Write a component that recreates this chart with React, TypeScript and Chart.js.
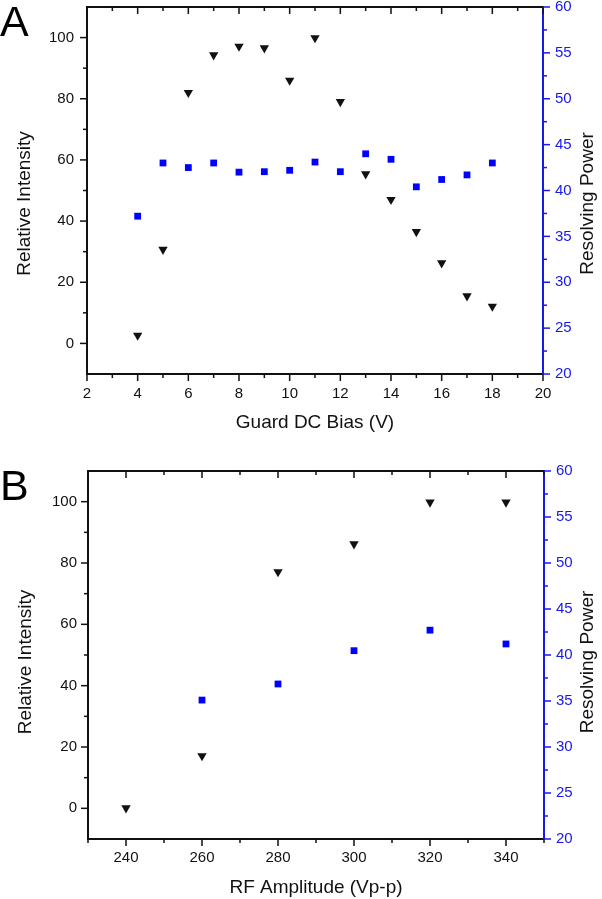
import React, { useEffect, useRef } from 'react';
import { Chart, registerables } from 'chart.js';

Chart.register(...registerables);
Chart.defaults.font.family = '"Liberation Sans", Arial, Helvetica, sans-serif';

// ---------- Data ----------
// Panel A: Guard DC bias sweep
const biasVolts = [4, 5, 6, 7, 8, 9, 10, 11, 12, 13, 14, 15, 16, 17, 18];
const biasIntensity = [2.6, 30.7, 82, 94.3, 97.1, 96.6, 86, 99.9, 79, 55.4, 47, 36.5, 26.3, 15.5, 12.1];
const biasResolving = [37.2, 43.0, 42.5, 43.0, 42.0, 42.05, 42.2, 43.1, 42.05, 44.0, 43.4, 40.4, 41.2, 41.7, 43.0];

// Panel B: RF amplitude sweep
const rfAmplitude = [240, 260, 280, 300, 320, 340];
const rfIntensity = [0.1, 17.1, 77.1, 86.2, 99.8, 99.8];
const rfResolving: (number | null)[] = [null, 35.1, 36.85, 40.47, 42.7, 41.2];

// Tick labels
const intensityTicks = [0, 20, 40, 60, 80, 100];
const resolvingTicks = [20, 25, 30, 35, 40, 45, 50, 55, 60];
const biasTicks = [2, 4, 6, 8, 10, 12, 14, 16, 18, 20];
const rfTicks = [240, 260, 280, 300, 320, 340];

const BLACK = '#111111';
const BLUE_AXIS = 'rgb(24,24,235)';
const BLUE_MARK = '#0000ff';
const W = 602;

type Layout = {
  canvasTop: number;
  height: number;
  left: number;
  right: number;
  top: number;
  bottom: number;
  xLabelPad: number;
  yLabelPad: number;
  titlePadBottom: number;
  leftTitle: { x: number; y: number };
  rightTitle: { x: number; y: number };
};

type PanelProps = {
  xs: number[];
  intensity: number[];
  resolving: (number | null)[];
  xMin: number;
  xMax: number;
  xTicks: number[];
  xMinor: number;
  xMajor: number;
  xTitle: string;
  layout: Layout;
};

const eachStep = (min: number, max: number, step: number, fn: (v: number, i: number) => void) => {
  const n = Math.round((max - min) / step);
  for (let i = 0; i <= n; i++) fn(min + i * step, i);
};
const isMajor = (v: number, major: number) => Math.abs(v / major - Math.round(v / major)) < 1e-6;

const frameTicks = {
  id: 'frameTicks',
  afterDraw(chart: any, _args: any, opts: any) {
    const { ctx, chartArea } = chart;
    const { left, right, top, bottom } = chartArea;
    const sx = chart.scales.x;
    const sy = chart.scales.y;
    const sr = chart.scales.y2;
    const MAJ = 7;
    const MIN = 4;
    ctx.save();
    // top frame line
    ctx.strokeStyle = BLACK;
    ctx.lineWidth = 2;
    ctx.beginPath();
    ctx.moveTo(left - 1, top);
    ctx.lineTo(right, top);
    ctx.stroke();

    ctx.lineWidth = 1.5;
    // bottom (outward) and top (inward) ticks
    eachStep(sx.min, sx.max, opts.xMinor, (v) => {
      const p = sx.getPixelForValue(v);
      const len = isMajor(v, opts.xMajor) ? MAJ : MIN;
      ctx.beginPath();
      ctx.moveTo(p, bottom);
      ctx.lineTo(p, bottom + len);
      ctx.moveTo(p, top);
      ctx.lineTo(p, top + len);
      ctx.stroke();
    });
    // left ticks (outward)
    eachStep(sy.min, sy.max, 10, (v) => {
      if (v <= sy.min || v >= sy.max) return;
      const p = sy.getPixelForValue(v);
      const len = isMajor(v, 20) ? MAJ : MIN;
      ctx.beginPath();
      ctx.moveTo(left - len, p);
      ctx.lineTo(left, p);
      ctx.stroke();
    });
    // right ticks (outward, blue)
    ctx.strokeStyle = BLUE_AXIS;
    eachStep(sr.min, sr.max, 2.5, (v) => {
      const p = sr.getPixelForValue(v);
      const len = isMajor(v, 5) ? MAJ : MIN;
      ctx.beginPath();
      ctx.moveTo(right, p);
      ctx.lineTo(right + len, p);
      ctx.stroke();
    });

    // vertical axis titles (both read bottom-to-top)
    ctx.fillStyle = BLACK;
    ctx.font = '19px "Liberation Sans", Arial, sans-serif';
    ctx.textAlign = 'center';
    ctx.textBaseline = 'alphabetic';
    const drawV = (text: string, x: number, y: number) => {
      ctx.save();
      ctx.translate(x, y);
      ctx.rotate(-Math.PI / 2);
      ctx.fillText(text, 0, 0);
      ctx.restore();
    };
    drawV('Relative Intensity', opts.leftTitle.x, opts.leftTitle.y);
    drawV('Resolving Power', opts.rightTitle.x, opts.rightTitle.y);
    ctx.restore();
  },
};

function Panel(props: PanelProps) {
  const ref = useRef<HTMLCanvasElement | null>(null);
  const { layout: L } = props;
  useEffect(() => {
    if (!ref.current) return;
    const triData = props.xs.map((x, i) => ({ x, y: props.intensity[i] }));
    const sqData = props.xs
      .map((x, i) => ({ x, y: props.resolving[i] }))
      .filter((d) => d.y !== null) as { x: number; y: number }[];
    const chart = new Chart(ref.current, {
      type: 'scatter',
      data: {
        datasets: [
          {
            label: 'Relative Intensity',
            data: triData,
            yAxisID: 'y',
            pointStyle: 'triangle',
            pointRotation: 180,
            pointRadius: 5.4,
            pointBackgroundColor: BLACK,
            backgroundColor: BLACK,
            pointBorderWidth: 0,
            borderWidth: 0,
          } as any,
          {
            label: 'Resolving Power',
            data: sqData,
            yAxisID: 'y2',
            pointStyle: 'rect',
            pointRadius: 4.8,
            pointBackgroundColor: BLUE_MARK,
            backgroundColor: BLUE_MARK,
            pointBorderWidth: 0,
            borderWidth: 0,
          } as any,
        ],
      },
      options: {
        responsive: false,
        animation: false,
        layout: { padding: { top: L.top, left: 0, right: 0, bottom: 0 } },
        plugins: {
          legend: { display: false },
          tooltip: { enabled: false },
          frameTicks: {
            xMinor: props.xMinor,
            xMajor: props.xMajor,
            leftTitle: L.leftTitle,
            rightTitle: L.rightTitle,
          },
        } as any,
        scales: {
          x: {
            type: 'linear',
            position: 'bottom',
            min: props.xMin,
            max: props.xMax,
            afterBuildTicks: (s: any) => {
              s.ticks = props.xTicks.map((v) => ({ value: v }));
            },
            afterFit: (s: any) => {
              s.height = L.height - L.bottom;
              s.paddingLeft = 0;
              s.paddingRight = 0;
            },
            grid: { display: false, drawTicks: false },
            border: { display: true, color: BLACK, width: 2 },
            ticks: {
              padding: L.xLabelPad,
              color: BLACK,
              font: { size: 15 },
              autoSkip: false,
              maxRotation: 0,
            },
            title: {
              display: true,
              text: props.xTitle,
              color: BLACK,
              font: { size: 19 },
              padding: { top: 0, bottom: L.titlePadBottom },
            },
          },
          y: {
            type: 'linear',
            position: 'left',
            min: -10,
            max: 110,
            afterBuildTicks: (s: any) => {
              s.ticks = intensityTicks.map((v) => ({ value: v }));
            },
            afterFit: (s: any) => {
              s.width = L.left;
              s.paddingTop = 0;
              s.paddingBottom = 0;
            },
            grid: { display: false, drawTicks: false },
            border: { display: true, color: BLACK, width: 2 },
            ticks: { padding: L.yLabelPad, color: BLACK, font: { size: 15 }, autoSkip: false },
          },
          y2: {
            type: 'linear',
            position: 'right',
            min: 20,
            max: 60,
            afterBuildTicks: (s: any) => {
              s.ticks = resolvingTicks.map((v) => ({ value: v }));
            },
            afterFit: (s: any) => {
              s.width = W - L.right;
              s.paddingTop = 0;
              s.paddingBottom = 0;
            },
            grid: { display: false, drawTicks: false },
            border: { display: true, color: BLUE_AXIS, width: 2 },
            ticks: { padding: 12, color: BLUE_AXIS, font: { size: 15 }, autoSkip: false },
          },
        } as any,
      },
      plugins: [frameTicks as any],
    });
    return () => chart.destroy();
  }, []);
  return (
    <canvas
      ref={ref}
      width={W}
      height={L.height}
      style={{ position: 'absolute', left: 0, top: L.canvasTop, width: W, height: L.height }}
    />
  );
}

const layoutA: Layout = {
  canvasTop: 0,
  height: 440,
  left: 87,
  right: 543,
  top: 7,
  bottom: 374,
  xLabelPad: 11,
  yLabelPad: 13,
  titlePadBottom: 6,
  leftTitle: { x: 30, y: 203.5 },
  rightTitle: { x: 593, y: 203.5 },
};

const layoutB: Layout = {
  canvasTop: 440,
  height: 459,
  left: 88,
  right: 544,
  top: 31,
  bottom: 399,
  xLabelPad: 9.5,
  yLabelPad: 11,
  titlePadBottom: 0,
  leftTitle: { x: 31, y: 222 },
  rightTitle: { x: 593, y: 222 },
};

const letterStyle: React.CSSProperties = {
  position: 'absolute',
  left: 0,
  fontFamily: '"Liberation Sans", Arial, sans-serif',
  fontSize: 43,
  lineHeight: 1,
  color: '#000',
  margin: 0,
};

export default function App() {
  return (
    <div style={{ position: 'absolute', left: 0, top: 0, width: W, height: 899, background: '#fff', overflow: 'hidden' }}>
      <Panel
        xs={biasVolts}
        intensity={biasIntensity}
        resolving={biasResolving}
        xMin={2}
        xMax={20}
        xTicks={biasTicks}
        xMinor={1}
        xMajor={2}
        xTitle="Guard DC Bias (V)"
        layout={layoutA}
      />
      <Panel
        xs={rfAmplitude}
        intensity={rfIntensity}
        resolving={rfResolving}
        xMin={230}
        xMax={350}
        xTicks={rfTicks}
        xMinor={10}
        xMajor={20}
        xTitle="RF Amplitude (Vp-p)"
        layout={layoutB}
      />
      <div style={{ ...letterStyle, top: 0 }}>A</div>
      <div style={{ ...letterStyle, top: 464 }}>B</div>
    </div>
  );
}
